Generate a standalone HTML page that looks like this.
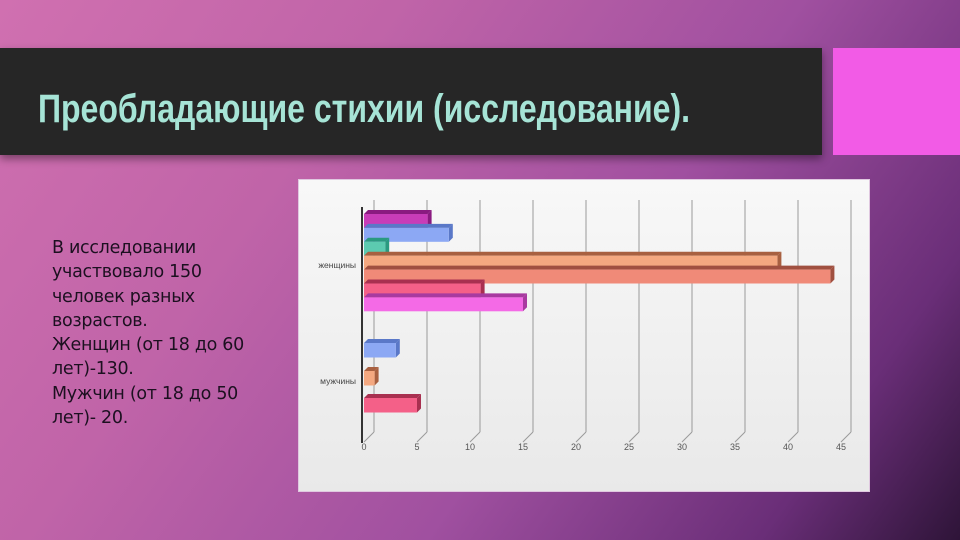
<!DOCTYPE html>
<html><head><meta charset="utf-8"><style>
html,body{margin:0;padding:0}
body{width:960px;height:540px;overflow:hidden;position:relative;
background:linear-gradient(125deg,#d070b0 0%,#c064a8 30%,#a050a0 60%,#6a2e78 85%,#2e1438 100%);
font-family:"Liberation Sans","DejaVu Sans",sans-serif}
#band{position:absolute;left:0;top:48px;width:822px;height:107px;background:#262626;box-shadow:0 4px 8px rgba(0,0,0,.4)}
#sq{position:absolute;left:833px;top:48px;width:127px;height:107px;background:#f25be6}
#txt{position:absolute;left:52px;top:236px;font-size:17.5px;line-height:24.3px;color:#1c1020;font-family:"DejaVu Sans","Liberation Sans",sans-serif;letter-spacing:-0.3px}
#panel{position:absolute;left:298px;top:179px;width:570px;height:311px;background:linear-gradient(#f8f8f8,#e9e9e9);border:1px solid #e0c8e0}
</style></head><body>
<div id="band">
<svg width="822" height="107" style="position:absolute;left:0;top:0">
<text x="38" y="74" font-family="Liberation Sans Narrow, Liberation Sans, sans-serif" font-weight="bold" font-size="40" fill="#a6e4d6" textLength="652" lengthAdjust="spacingAndGlyphs">Преобладающие стихии (исследование).</text>
</svg></div>
<div id="sq"></div>
<div id="txt">В исследовании<br>участвовало 150<br>человек разных<br>возрастов.<br>Женщин (от 18 до 60<br>лет)-130.<br>Мужчин (от 18 до 50<br>лет)- 20.</div>
<div id="panel">
<svg id="chart" width="570" height="311"></svg>
</div>
<script>
const categories=["женщины","мужчины"];
const womenValues=[6,8,2,39,44,11,15];
const menValues=[3,1,5];
const ticks=[0,5,10,15,20,25,30,35,40,45];
const womenColors=[["#c83cb8","#8a1a80"],["#8ca8f4","#5a78c8"],["#5ccab0","#2a9a80"],["#f4a880","#a86040"],["#f08a78","#a05040"],["#f46088","#a83050"],["#f46ae6","#a83aa0"]];
const menColors=[["#8ca8f4","#5a78c8"],["#f4a880","#a86040"],["#f46088","#a83050"]];
const NS="http://www.w3.org/2000/svg";
const svg=document.getElementById('chart');
const x0=65, pxPerUnit=10.6, d=4;
function xs(v){return x0+v*pxPerUnit;}
function mk(t,a){const e=document.createElementNS(NS,t);for(const k in a)e.setAttribute(k,a[k]);svg.appendChild(e);return e;}
ticks.forEach(t=>{
  const g=mk('line',{x1:xs(t)+10,y1:20,x2:xs(t)+10,y2:252,stroke:'#999','stroke-width':1});
  
  
  mk('line',{x1:xs(t)+10,y1:252,x2:xs(t),y2:262,stroke:'#999','stroke-width':1});
  const l=mk('text',{x:xs(t),y:270,'font-size':9,fill:'#555','text-anchor':'middle','font-family':'Liberation Sans, sans-serif'});
  l.textContent=t;
  
  
});
const ax=mk('line',{x1:x0-2,y1:27,x2:x0-2,y2:263,stroke:'#333','stroke-width':2});


function bar(v,y,h,c,name){
  const x=x0, w=xs(v)-x0;
  const g=document.createElementNS(NS,'g');svg.appendChild(g);
  
  
  const top=document.createElementNS(NS,'polygon');top.setAttribute('points',`${x},${y} ${x+d},${y-d} ${x+w+d},${y-d} ${x+w},${y}`);top.setAttribute('fill',c[1]);g.appendChild(top);
  const side=document.createElementNS(NS,'polygon');side.setAttribute('points',`${x+w},${y} ${x+w+d},${y-d} ${x+w+d},${y+h-d} ${x+w},${y+h}`);side.setAttribute('fill',c[1]);g.appendChild(side);
  const f=document.createElementNS(NS,'rect');f.setAttribute('x',x);f.setAttribute('y',y);f.setAttribute('width',w);f.setAttribute('height',h);f.setAttribute('fill',c[0]);g.appendChild(f);
}
const wTop=34, bh=13.9;
womenValues.forEach((v,i)=>bar(v,wTop+i*bh,bh,womenColors[i],'bar-women-'+(i+1)));
const mTops=[163,191,218];
menValues.forEach((v,i)=>bar(v,mTops[i],14.5,menColors[i],'bar-men-'+(i+1)));
const cy=[85,201];
categories.forEach((c,i)=>{
  const t=mk('text',{x:57,y:cy[i]+3,'font-size':8.5,fill:'#444','text-anchor':'end','font-family':'Liberation Sans, sans-serif'});
  t.textContent=c;
  
  
});
</script>
</body></html>
